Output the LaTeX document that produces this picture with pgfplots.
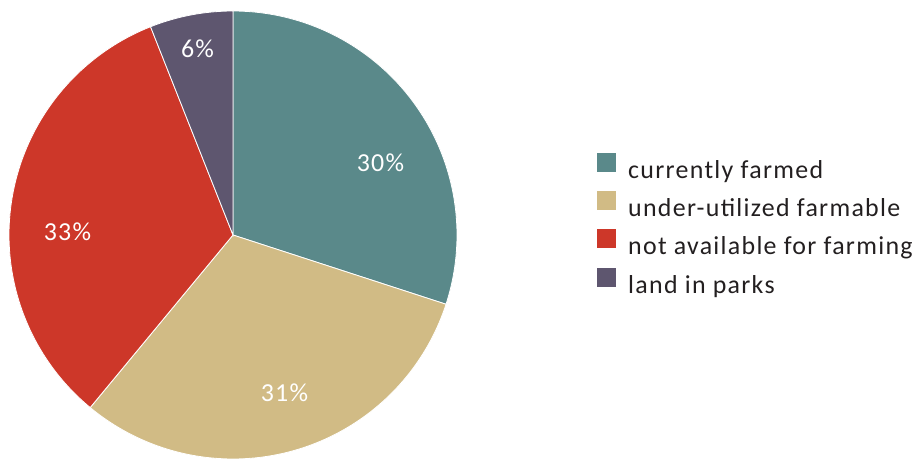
\documentclass[border=0pt]{standalone}
\usepackage{pgfplots}
\usepackage{pgfplotstable}
\pgfplotsset{compat=1.18}
\usepackage{fontspec}
\setmainfont{Carlito}[LetterSpace=5]

\definecolor{cFarmed}{HTML}{5A898A}
\definecolor{cUnder}{HTML}{D1BB85}
\definecolor{cNot}{HTML}{CD3729}
\definecolor{cParks}{HTML}{5E566F}
\definecolor{txt}{HTML}{231F20}

% share of land in percent, clockwise from the top
\pgfplotstableread{
share
30
31
33
6
}\landshares

\pgfplotstablegetelem{0}{share}\of\landshares \let\sA\pgfplotsretval
\pgfplotstablegetelem{1}{share}\of\landshares \let\sB\pgfplotsretval
\pgfplotstablegetelem{2}{share}\of\landshares \let\sC\pgfplotsretval
\pgfplotstablegetelem{3}{share}\of\landshares \let\sD\pgfplotsretval

% slice boundaries (degrees), starting at 12 o'clock and going clockwise
\pgfmathsetmacro{\aA}{90}
\pgfmathsetmacro{\aB}{\aA-3.6*\sA}
\pgfmathsetmacro{\aC}{\aB-3.6*\sB}
\pgfmathsetmacro{\aD}{\aC-3.6*\sC}
\pgfmathsetmacro{\aE}{\aD-3.6*\sD}

\newcommand{\cx}{233}
\newcommand{\cy}{224}
\newcommand{\rr}{224}
\newcommand{\labelfont}{\fontsize{26}{30}\selectfont}

\begin{document}
\begin{tikzpicture}
\begin{axis}[
  hide axis, scale only axis,
  width=917bp, height=459bp,
  xmin=0, xmax=917, ymin=0, ymax=459,
  clip=false,
  legend cell align=left,
  legend style={
    at={(axis cs:597,306.5)}, anchor=north west,
    draw=none, fill=none, inner sep=0pt,
    font=\labelfont\color{txt},
    row sep=8.9bp, column sep=12bp,
    nodes={inner xsep=0pt, inner ysep=0pt, text height=20bp, text depth=4bp},
  },
  legend image code/.code={
    \fill[#1,draw=none] (0bp,-1.5bp) rectangle (19bp,17.5bp);
  },
]
% page extent
\path (axis cs:0,0) rectangle (axis cs:917,459);

\addplot[fill=cFarmed, draw=white, line width=0.8bp, domain=\aB:\aA, samples=90, variable=\t]
  ({\cx+\rr*cos(\t)},{\cy+\rr*sin(\t)}) -- (axis cs:\cx,\cy) -- cycle;
\addlegendentry{currently farmed}
\addplot[fill=cUnder, draw=white, line width=0.8bp, domain=\aC:\aB, samples=90, variable=\t]
  ({\cx+\rr*cos(\t)},{\cy+\rr*sin(\t)}) -- (axis cs:\cx,\cy) -- cycle;
\addlegendentry{under-utilized farmable}
\addplot[fill=cNot, draw=white, line width=0.8bp, domain=\aD:\aC, samples=90, variable=\t]
  ({\cx+\rr*cos(\t)},{\cy+\rr*sin(\t)}) -- (axis cs:\cx,\cy) -- cycle;
\addlegendentry{not available for farming}
\addplot[fill=cParks, draw=white, line width=0.8bp, domain=\aE:\aD, samples=30, variable=\t]
  ({\cx+\rr*cos(\t)},{\cy+\rr*sin(\t)}) -- (axis cs:\cx,\cy) -- cycle;
\addlegendentry{land in parks}

\begin{scope}[every node/.style={white, font=\labelfont, inner sep=0pt}]
\node at (axis cs:380.5,296.5) {\sA\%};
\node at (axis cs:284.5,66.5) {\sB\%};
\node at (axis cs:67.5,227.5) {\sC\%};
\node at (axis cs:197.5,410) {\sD\%};
\end{scope}
\end{axis}
\end{tikzpicture}
\end{document}
